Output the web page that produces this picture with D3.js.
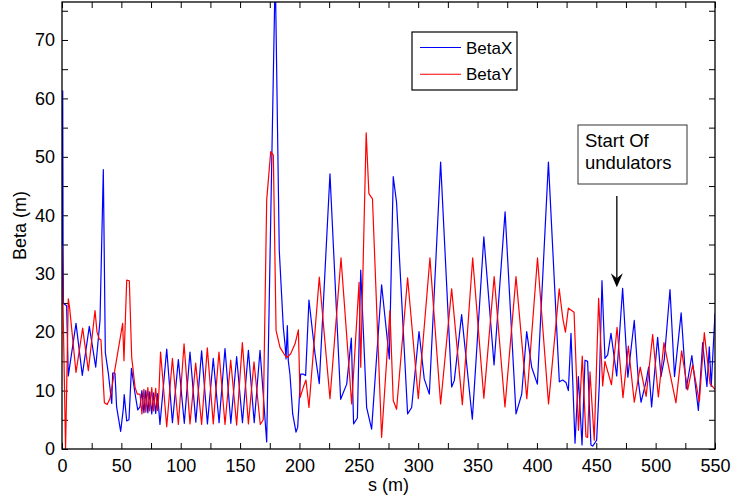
<!DOCTYPE html>
<html>
<head>
<meta charset="utf-8">
<script src="https://cdn.jsdelivr.net/npm/d3@7"></script>
<style>
  body { margin: 0; background: #fff; }
  svg { display: block; font-family: "Liberation Sans", Arial, sans-serif; }
</style>
</head>
<body>
<div id="vis"></div>
<script>
const width = 731;
const height = 501;
const margin = { top: 2, right: 16, bottom: 52, left: 62 };

// [s (m), beta (m)]
const betaX = [
  [0, 35], [0.6, 61.3], [0.9, 35], [1.2, 24.9], [3.9, 24.5], [5.3, 12.5], [11.8, 21.5], [17.1, 12.6], [23, 21],
  [28.4, 14], [32, 22], [34.8, 47.8], [36.5, 16.5], [39, 13], [41.9, 7.8], [42.7, 13], [44.6, 13],
  [46, 7.2], [49.4, 3], [51.7, 7], [52.4, 9.3], [54.5, 4.8], [56.4, 5], [58.5, 13.8], [61.5, 9.5],
  [63.8, 6.7], [65.7, 7.2], [67.3, 10], [69, 6.2], [70.6, 10], [72.3, 6.2], [73.9, 9.8], [75.6, 6],
  [77.2, 9.6], [78.9, 6.1], [80.5, 9.5], [82.5, 4.2], [88.2, 17.1],
  [93, 4.5], [98, 15.3], [103, 4.4], [107.8, 16.6], [112.7, 4.6], [117.6, 16.8], [122.5, 4.3],
  [127.4, 15.5], [132.3, 4.5], [137.3, 17.2], [142.2, 4.4], [147.1, 15.8], [152, 4.5], [157, 16.9],
  [161.9, 4.5], [166.8, 16.9], [172.4, 1.2], [179.6, 82], [183, 34], [186.4, 20.8], [187.8, 18],
  [188.7, 15.4], [189.8, 21.1], [190.6, 15.1], [192, 12.8], [194.3, 6], [197.1, 2.9], [198.5, 3.7],
  [201, 12.8], [203.3, 12.8], [205.2, 12.6], [208, 25.5], [213.1, 16.3], [216.7, 11.2], [225.7, 47.1],
  [234.7, 8.5], [239.8, 11.1], [243.7, 19], [245.6, 4.3], [248.8, 5.3], [251.6, 30.6], [256.6, 7.1],
  [260.8, 3.4], [269.2, 28.1], [275.7, 15.4], [279, 46.6], [281.8, 42.2], [291.1, 6], [294.5, 7.1],
  [300.7, 20.1], [305.1, 12], [309.4, 9.4], [318.9, 49.1], [328.2, 10.6], [330.4, 11.7], [336.6, 23],
  [345.6, 5.1], [355.3, 36.3], [363.9, 14.4], [373.2, 40.6], [382.4, 6], [387.2, 9.4], [391.4, 20.1],
  [395.6, 14], [400.4, 11.1], [409.7, 49.1], [418.9, 11.5], [421.7, 11.8], [424.5, 11.4], [426.5, 10],
  [428.7, 19.8], [432.1, 1], [434.9, 12.4], [438, 0.7], [440.5, 15.2], [442.7, 15], [445.5, 0.7],
  [447, 0.5], [450.3, 1.5], [452.6, 11.2], [454.8, 28.8], [457.3, 15.5], [459.6, 16.1], [462.4, 19.8],
  [467.2, 12.5], [472.2, 27.5], [476.6, 12.3], [482, 22], [485.5, 11.5], [487.7, 8], [491.9, 11.5],
  [494.1, 14], [496.6, 7.2], [501.7, 19.1], [504.5, 12.4], [507.3, 15.4], [512.1, 27.3], [515.9, 12.4],
  [521.5, 23.3], [525.8, 10.3], [530.5, 16], [536, 6.6], [539.6, 18.2], [543.2, 10.7], [545.2, 17.5],
  [546.8, 10.7], [550, 23.2]
];

const betaY = [
  [0, 34.6], [3, 0], [5.3, 25.7], [6.5, 24], [11.8, 13.1], [17.4, 20.7], [22.2, 13.4], [27.8, 23.7],
  [29.5, 20], [31.4, 18.8], [32.8, 18.7], [35.7, 7.9], [38, 7.6], [40.4, 8.6], [51.1, 21.5], [52.2, 15.1],
  [54.5, 28.9], [56.7, 28.8], [58.7, 15.7], [61.5, 10.6], [63.4, 9.4], [65.7, 9.4], [67.3, 6], [69, 10.2],
  [70.6, 6.3], [72.3, 10.5], [73.9, 6.5], [75.6, 10.5], [77.2, 6.5], [78.9, 10.4], [80.5, 6.6],
  [81.6, 9.5], [83, 16.6], [88.2, 3.8], [93, 15.5], [98, 4.2], [102.8, 18],
  [107.8, 4.3], [112.6, 14.7], [117.6, 4.2], [122.4, 17.3], [127.4, 4.3], [132.2, 16.6], [137.3, 4.2],
  [142.1, 15.2], [147.1, 4.1], [151.9, 18.2], [157, 4.3], [161.7, 14.9], [167, 4.2], [169.5, 5],
  [172.4, 42.6], [175.8, 50.9], [178, 50.3], [180.3, 20.3], [183.6, 17.4], [187.8, 16], [189.8, 15.7],
  [192.6, 16.3], [196.3, 18], [199.1, 20.4], [200.5, 8.8], [203.3, 10.6], [205.5, 11.8], [208, 7.1],
  [216.7, 29.4], [225.7, 8.6], [235, 32.7], [244, 7.7], [250.2, 28.5], [251.6, 14], [256.2, 54.1],
  [258.5, 43.7], [261.5, 42.8], [269.2, 2], [276.2, 23.7], [279, 8.3], [281.8, 6.8], [291.1, 29.3],
  [300.1, 8.6], [309.9, 32.7], [318.9, 7.7], [328.2, 27.4], [337.2, 7.6], [345.9, 32.7], [355.3, 8.7],
  [364, 29.5], [373.1, 7.2], [382.4, 29.5], [391.5, 8.6], [400.5, 32.7], [409.8, 7.7], [418.8, 27.4],
  [421.7, 22.5], [424, 20], [426.5, 24.1], [431.3, 23.4], [435, 3.2], [438.2, 15.9], [441.3, 2.1],
  [442.7, 2], [444.7, 13.2], [448.3, 1.5], [452, 25.8], [455.4, 10.8], [457.3, 15], [462.8, 11],
  [467.5, 20.8], [472.5, 8.8], [477, 17.6], [482, 8], [487, 14], [492, 9], [497.5, 19.6], [502.3, 8.9],
  [507, 18.2], [512.5, 12.5], [517.1, 7.9], [521.9, 16.8], [527, 10.1], [531.2, 14.4], [536.8, 8.1],
  [541, 19.9], [545.8, 11.2], [550, 10.2]
];

const xTicks = d3.range(0, 551, 25);
const yTicks = d3.range(0, 76, 5);
const legendLabels = ['BetaX', 'BetaY'];
const seriesColors = ['#0000ff', '#ff0000'];
const noteLines = ['Start Of', 'undulators'];
const notePoint = [467.3, 27.7];

const svg = d3.select('#vis').append('svg').attr('width', width).attr('height', height);

const x = d3.scaleLinear().domain([0, 550]).range([margin.left, width - margin.right]);
const y = d3.scaleLinear().domain([0, 76.5]).range([height - margin.bottom, margin.top]);

const x0 = x.range()[0], x1 = x.range()[1];
const y0 = y.range()[0], y1 = y.range()[1];

svg.append('clipPath').attr('id', 'plot-clip')
  .append('rect').attr('x', x0).attr('y', y1).attr('width', x1 - x0).attr('height', y0 - y1);

// axes: MATLAB style, inward ticks on all four sides
const fmtX = (d) => (d % 50 === 0 ? d : '');
const fmtY = (d) => (d % 10 === 0 ? d : '');

const styleAxis = (g) => {
  g.select('.domain').remove();
  g.selectAll('line').attr('stroke', '#000').attr('stroke-width', 1);
  g.selectAll('text').attr('fill', '#000').style('font-size', '18px')
    .style('font-family', '"Liberation Sans", Arial, sans-serif');
};

svg.append('g').attr('transform', `translate(0,${y0})`)
  .call(d3.axisBottom(x).tickValues(xTicks).tickFormat(fmtX).tickSizeInner(-6).tickSizeOuter(0).tickPadding(10))
  .call(styleAxis);
svg.append('g').attr('transform', `translate(0,${y1})`)
  .call(d3.axisTop(x).tickValues(xTicks).tickFormat('').tickSizeInner(-6).tickSizeOuter(0))
  .call(styleAxis);
svg.append('g').attr('transform', `translate(${x0},0)`)
  .call(d3.axisLeft(y).tickValues(yTicks).tickFormat(fmtY).tickSizeInner(-6).tickSizeOuter(0).tickPadding(7))
  .call(styleAxis);
svg.append('g').attr('transform', `translate(${x1},0)`)
  .call(d3.axisRight(y).tickValues(yTicks).tickFormat('').tickSizeInner(-6).tickSizeOuter(0))
  .call(styleAxis);

// lines
const line = d3.line().x((d) => x(d[0])).y((d) => y(d[1]));
const plot = svg.append('g').attr('clip-path', 'url(#plot-clip)');
[betaX, betaY].forEach((data, i) => {
  plot.append('path').datum(data)
    .attr('fill', 'none')
    .attr('stroke', seriesColors[i])
    .attr('stroke-width', 1.2)
    .attr('stroke-linejoin', 'round')
    .attr('d', line);
});

// box
svg.append('rect').attr('x', x0).attr('y', y1).attr('width', x1 - x0).attr('height', y0 - y1)
  .attr('fill', 'none').attr('stroke', '#000').attr('stroke-width', 1.3);

// axis labels
svg.append('text').attr('x', (x0 + x1) / 2).attr('y', 491).attr('text-anchor', 'middle')
  .style('font-size', '18px').text('s (m)');
svg.append('text').attr('transform', `translate(26,${(y0 + y1) / 2}) rotate(-90)`)
  .attr('text-anchor', 'middle').style('font-size', '18px').text('Beta (m)');

// legend
const legend = svg.append('g').attr('transform', 'translate(412,32)');
legend.append('rect').attr('width', 105).attr('height', 58)
  .attr('fill', '#fff').attr('stroke', '#000').attr('stroke-width', 1.2);
legendLabels.forEach((label, i) => {
  const ly = 15.5 + i * 26.7;
  legend.append('line').attr('x1', 8).attr('x2', 49).attr('y1', ly).attr('y2', ly)
    .attr('stroke', seriesColors[i]).attr('stroke-width', 1.1);
  legend.append('text').attr('x', 54).attr('y', ly + 6).style('font-size', '17px').text(label);
});

// annotation
const note = svg.append('g').attr('transform', 'translate(578,125)');
note.append('rect').attr('width', 109).attr('height', 59)
  .attr('fill', '#fff').attr('stroke', '#333').attr('stroke-width', 1);
noteLines.forEach((t, i) => {
  note.append('text').attr('x', 7).attr('y', 22 + i * 21.5).style('font-size', '18.5px').text(t);
});

const ax = x(notePoint[0]), ay = y(notePoint[1]);
svg.append('line').attr('x1', ax).attr('x2', ax).attr('y1', 196).attr('y2', ay - 8)
  .attr('stroke', '#222').attr('stroke-width', 1.5);
svg.append('path')
  .attr('d', `M${ax},${ay} L${ax - 6},${ay - 14} L${ax},${ay - 9} L${ax + 6},${ay - 14} Z`)
  .attr('fill', '#000');
</script>
</body>
</html>
